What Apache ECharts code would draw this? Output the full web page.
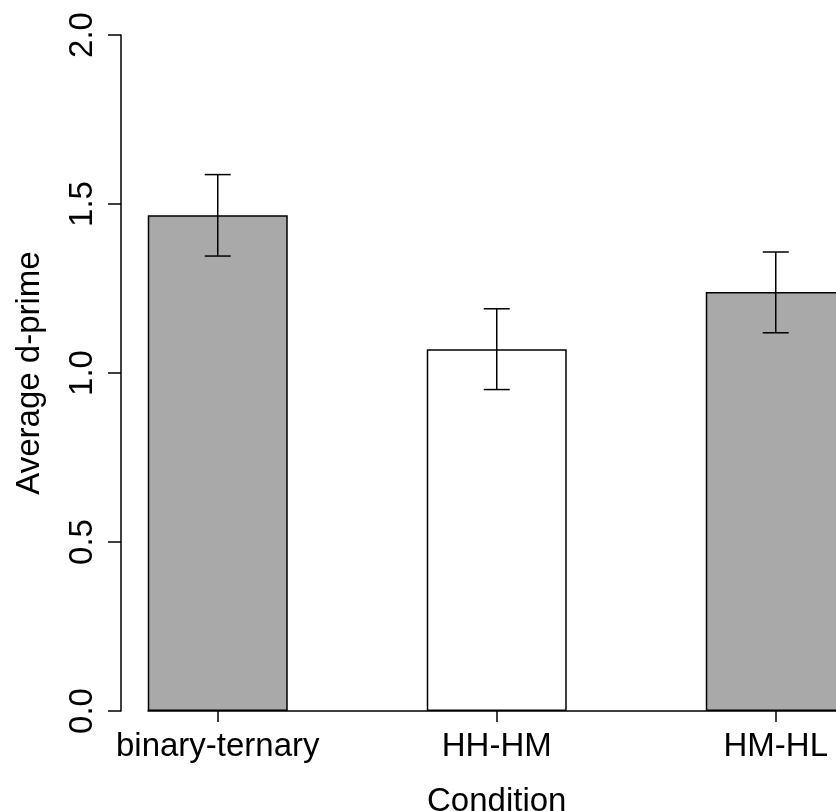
<!DOCTYPE html>
<html>
<head>
<meta charset="utf-8">
<script src="https://cdn.jsdelivr.net/npm/echarts@6/dist/echarts.min.js"></script>
<style>
html,body{margin:0;padding:0;background:#fff;}
#chart{width:836px;height:811px;}
</style>
</head>
<body>
<div id="chart"></div>
<script>
const categories = ['binary-ternary', 'HH-HM', 'HM-HL'];
const values = [1.467, 1.070, 1.240];
const errLow = [1.346, 0.951, 1.119];
const errHigh = [1.587, 1.190, 1.358];
const fills = ['#A9A9A9', '#FFFFFF', '#A9A9A9'];
const yTicks = [0, 0.5, 1.0, 1.5, 2.0];

// R barplot style midpoints: width 1, space 1
const mids = categories.map((c, i) => 1.5 + 2 * i);

const FONT = 'Liberation Sans, Arial, Helvetica, sans-serif';
const FS = 33;

const chart = echarts.init(document.getElementById('chart'), null, {renderer: 'canvas'});
chart.setOption({
  animation: false,
  backgroundColor: '#ffffff',
  grid: {left: 148, top: 35, width: 697.5, bottom: 100, containLabel: false, outerBoundsMode: 'none'},
  xAxis: {
    type: 'value', min: 1, max: 6,
    name: 'Condition', nameLocation: 'middle', nameGap: 74,
    nameTextStyle: {fontFamily: FONT, fontSize: FS, color: '#000'},
    axisLine: {show: true, onZero: false, lineStyle: {color: '#000', width: 1.5}},
    axisTick: {show: true, customValues: mids, length: 11, lineStyle: {color: '#000', width: 1.5}},
    axisLabel: {show: true, customValues: mids, margin: 19, color: '#000', fontFamily: FONT, fontSize: FS,
      formatter: v => { const i = mids.indexOf(v); return i >= 0 ? categories[i] : ''; }},
    splitLine: {show: false}
  },
  yAxis: {
    type: 'value', min: 0, max: 2, interval: 0.5, offset: 27,
    name: 'Average d-prime', nameLocation: 'middle', nameGap: 75, nameRotate: 90,
    nameTextStyle: {fontFamily: FONT, fontSize: FS, color: '#000'},
    axisLine: {show: true, lineStyle: {color: '#000', width: 1.5}},
    axisTick: {show: true, length: 13, lineStyle: {color: '#000', width: 1.5}},
    axisLabel: {rotate: 90, margin: 22, color: '#000', fontFamily: FONT, fontSize: FS,
      formatter: v => v.toFixed(1)},
    splitLine: {show: false}
  },
  series: [
    {
      type: 'bar',
      barWidth: 140,
      clip: true,
      data: values.map((v, i) => ({value: [mids[i], v], itemStyle: {color: fills[i], borderColor: '#000', borderWidth: 1.5}}))
    },
    {
      type: 'custom',
      clip: false,
      data: values.map((v, i) => [mids[i], errLow[i], errHigh[i]]),
      renderItem: function (params, api) {
        const x = api.value(0);
        const lo = api.coord([x, api.value(1)]);
        const hi = api.coord([x, api.value(2)]);
        const hw = 13;
        const st = {stroke: '#000', lineWidth: 1.5};
        return {
          type: 'group',
          children: [
            {type: 'line', shape: {x1: lo[0], y1: lo[1], x2: hi[0], y2: hi[1]}, style: st},
            {type: 'line', shape: {x1: lo[0] - hw, y1: lo[1], x2: lo[0] + hw, y2: lo[1]}, style: st},
            {type: 'line', shape: {x1: hi[0] - hw, y1: hi[1], x2: hi[0] + hw, y2: hi[1]}, style: st}
          ]
        };
      },
      z: 5
    }
  ]
});
</script>
</body>
</html>
